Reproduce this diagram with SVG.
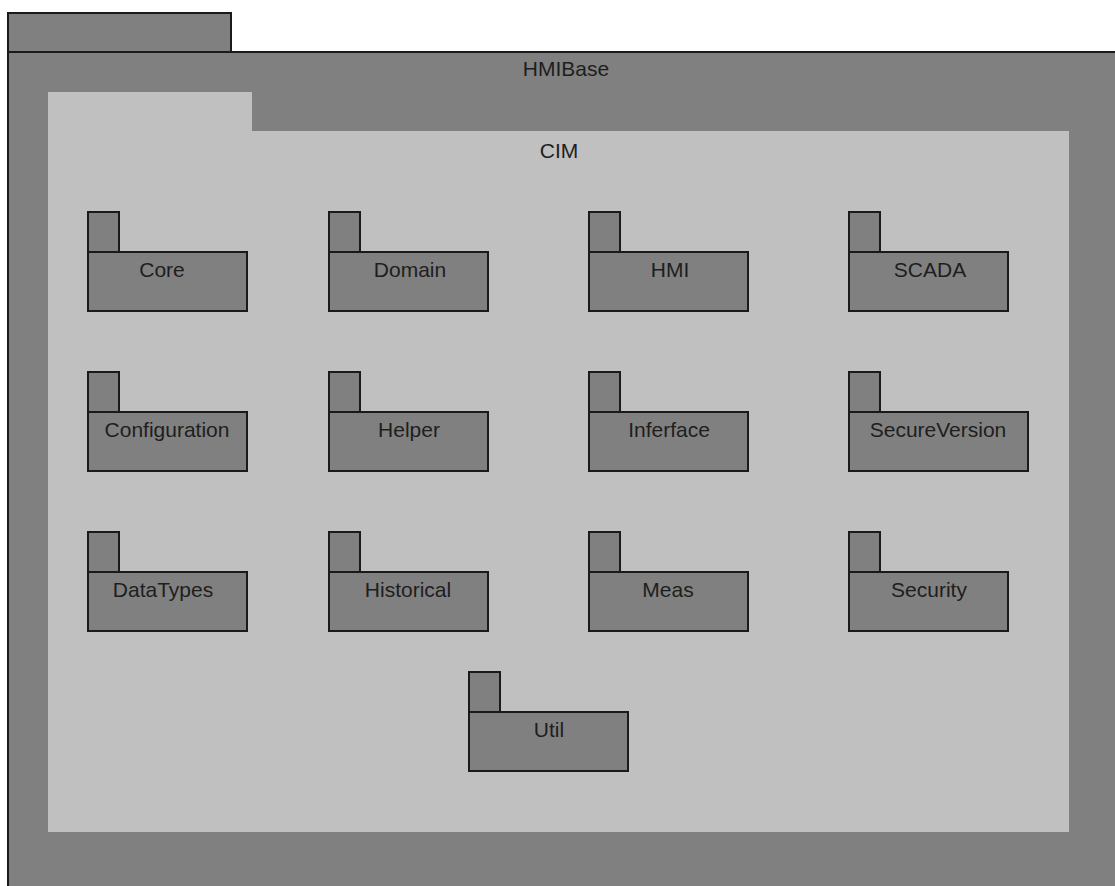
<svg xmlns="http://www.w3.org/2000/svg" width="1115" height="886" viewBox="0 0 1115 886">
<style>
.pk{fill:#808080;stroke:#1a1a1a;stroke-width:2}
.t{font-family:"Liberation Sans",Arial,sans-serif;font-size:21px;fill:#1e1e1e;text-anchor:middle}
</style>
<rect width="1115" height="886" fill="#ffffff"/>
<g id="HMIBase">
<rect class="pk" x="8" y="13" width="223" height="39"/>
<rect class="pk" x="8" y="52" width="1112" height="840"/>
<text class="t" x="566" y="76">HMIBase</text>
</g>
<g id="CIM">
<path d="M48 92H252V131H1069V832H48Z" fill="#c0c0c0"/>
<text class="t" x="559" y="158">CIM</text>
</g>
<g id="Core"><rect class="pk" x="88" y="212" width="31" height="40"/><rect class="pk" x="88" y="252" width="159" height="59"/><text class="t" x="162" y="277">Core</text></g>
<g id="Domain"><rect class="pk" x="329" y="212" width="31" height="40"/><rect class="pk" x="329" y="252" width="159" height="59"/><text class="t" x="410" y="277">Domain</text></g>
<g id="HMI"><rect class="pk" x="589" y="212" width="31" height="40"/><rect class="pk" x="589" y="252" width="159" height="59"/><text class="t" x="670" y="277">HMI</text></g>
<g id="SCADA"><rect class="pk" x="849" y="212" width="31" height="40"/><rect class="pk" x="849" y="252" width="159" height="59"/><text class="t" x="930" y="277">SCADA</text></g>
<g id="Configuration"><rect class="pk" x="88" y="372" width="31" height="40"/><rect class="pk" x="88" y="412" width="159" height="59"/><text class="t" x="167" y="437">Configuration</text></g>
<g id="Helper"><rect class="pk" x="329" y="372" width="31" height="40"/><rect class="pk" x="329" y="412" width="159" height="59"/><text class="t" x="409" y="437">Helper</text></g>
<g id="Inferface"><rect class="pk" x="589" y="372" width="31" height="40"/><rect class="pk" x="589" y="412" width="159" height="59"/><text class="t" x="669" y="437">Inferface</text></g>
<g id="SecureVersion"><rect class="pk" x="849" y="372" width="31" height="40"/><rect class="pk" x="849" y="412" width="179" height="59"/><text class="t" x="938" y="437">SecureVersion</text></g>
<g id="DataTypes"><rect class="pk" x="88" y="532" width="31" height="40"/><rect class="pk" x="88" y="572" width="159" height="59"/><text class="t" x="163" y="597">DataTypes</text></g>
<g id="Historical"><rect class="pk" x="329" y="532" width="31" height="40"/><rect class="pk" x="329" y="572" width="159" height="59"/><text class="t" x="408" y="597">Historical</text></g>
<g id="Meas"><rect class="pk" x="589" y="532" width="31" height="40"/><rect class="pk" x="589" y="572" width="159" height="59"/><text class="t" x="668" y="597">Meas</text></g>
<g id="Security"><rect class="pk" x="849" y="532" width="31" height="40"/><rect class="pk" x="849" y="572" width="159" height="59"/><text class="t" x="929" y="597">Security</text></g>
<g id="Util"><rect class="pk" x="469" y="672" width="31" height="40"/><rect class="pk" x="469" y="712" width="159" height="59"/><text class="t" x="549" y="737">Util</text></g>
<g id="connectors"/>
</svg>
